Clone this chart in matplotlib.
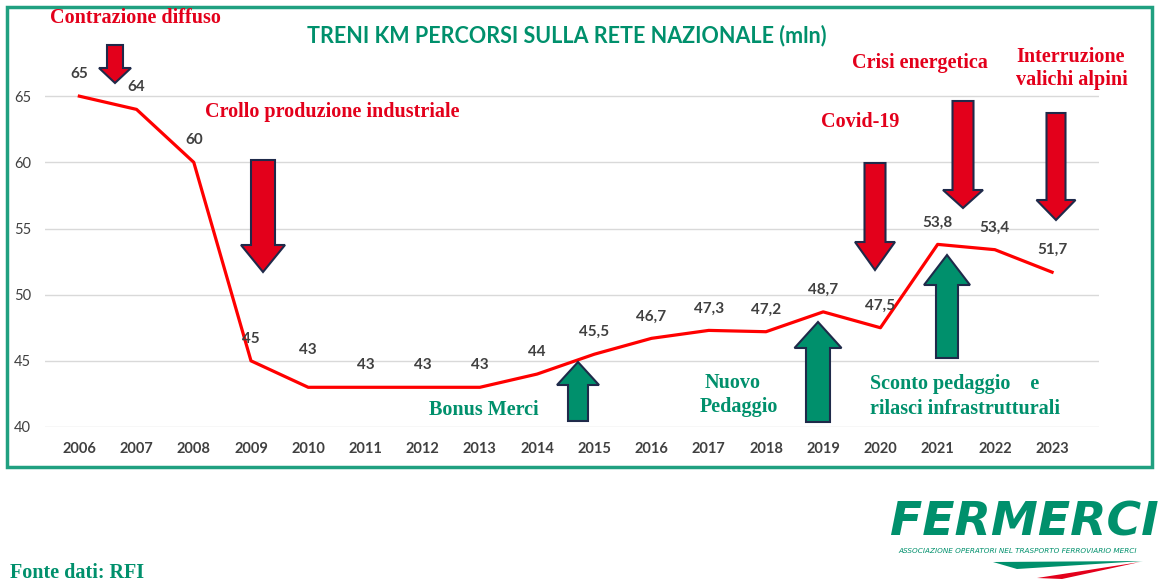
from matplotlib import pyplot as plt
from matplotlib.patches import Polygon, Rectangle

years = list(range(2006, 2024))
treni_km = [65, 64, 60, 45, 43, 43, 43, 43, 44, 45.5, 46.7, 47.3, 47.2, 48.7, 47.5, 53.8, 53.4, 51.7]
y_ticks = [40, 45, 50, 55, 60, 65]

W, H = 1163, 587
RED = "#e3001b"
GREEN = "#00906c"
NAVY = "#1f2a4a"
GRAY = "#404040"


def fx(x):
    return x / W


def fy(y):
    return 1 - y / H


def fmt(v):
    if v == int(v):
        return str(int(v))
    return str(v).replace(".", ",")


def block_arrow(fig, xc, y_tail, y_base, y_tip, shaft_w, head_w, color):
    s, h = shaft_w / 2, head_w / 2
    pts = [(xc - s, y_tail), (xc + s, y_tail), (xc + s, y_base), (xc + h, y_base),
           (xc, y_tip), (xc - h, y_base), (xc - s, y_base)]
    fig.patches.append(Polygon([(fx(x), fy(y)) for x, y in pts], closed=True,
                               transform=fig.transFigure, facecolor=color,
                               edgecolor=NAVY, lw=1.5, zorder=5))


fig = plt.figure(figsize=(W / 100, H / 100), dpi=100)
ax = fig.add_axes([fx(45), fy(427), (1099 - 45) / W, (427 - 30) / H])
ax.set_xlim(2005.4, 2023.82)
ax.set_ylim(40, 70)
ax.plot(years, treni_km, color="#ff0000", lw=2.3, zorder=3)

for _yr, _v in zip(years, treni_km):
    _dy = 37 if _yr == 2010 else 22
    ax.annotate(fmt(_v), (_yr, _v), xytext=(0, _dy), textcoords="offset pixels",
                ha="center", va="center", fontsize=11, fontweight="bold",
                family="Lato", color=GRAY)

ax.set_yticks(y_ticks)
ax.set_xticks(years)
ax.set_xticklabels([str(y) for y in years], fontsize=10.5, fontweight="bold",
                   family="Lato", color=GRAY)
ax.set_yticklabels([str(t) for t in y_ticks], fontsize=10.5, family="Lato", color=GRAY)
ax.tick_params(length=0, axis="x", pad=11)
ax.tick_params(length=0, axis="y", pad=10)
ax.yaxis.grid(True, color="#d9d9d9", lw=1)
ax.set_axisbelow(True)
for _sp in ax.spines.values():
    _sp.set_visible(False)

# frame
fig.patches.append(Rectangle((fx(7), fy(467)), (1152 - 7) / W, (467 - 7) / H,
                             transform=fig.transFigure, fill=False,
                             edgecolor="#20a080", lw=2.5))

fig.text(fx(567), fy(36), "TRENI KM PERCORSI SULLA RETE NAZIONALE (mln)", ha="center",
         va="center", fontsize=15.5, fontweight="bold", family="Lato", color=GREEN)

serif = dict(family="Liberation Serif", fontweight="bold", fontsize=14.5, va="center")
fig.text(fx(50), fy(18), "Contrazione diffuso", color=RED, ha="left", **serif)
fig.text(fx(205), fy(112), "Crollo produzione industriale", color=RED, ha="left", **serif)
fig.text(fx(860), fy(122), "Covid-19", color=RED, ha="center", **serif)
fig.text(fx(920), fy(63), "Crisi energetica", color=RED, ha="center", **serif)
fig.text(fx(1016), fy(57), "Interruzione", color=RED, ha="left", **serif)
fig.text(fx(1016), fy(80), "valichi alpini", color=RED, ha="left", **serif)
fig.text(fx(484), fy(410), "Bonus Merci", color=GREEN, ha="center", **serif)
fig.text(fx(705), fy(383), "Nuovo", color=GREEN, ha="left", **serif)
fig.text(fx(700), fy(407), "Pedaggio", color=GREEN, ha="left", **serif)
fig.text(fx(870), fy(384), "Sconto pedaggio    e", color=GREEN, ha="left", **serif)
fig.text(fx(870), fy(409), "rilasci infrastrutturali", color=GREEN, ha="left", **serif)
fig.text(fx(10), fy(573), "Fonte dati: RFI", color=GREEN, ha="left", **serif)

# arrows
block_arrow(fig, 115, 45, 68, 83, 16, 32, RED)
block_arrow(fig, 263, 160, 245, 272, 24, 44, RED)
block_arrow(fig, 875, 163, 242, 270, 21, 40, RED)
block_arrow(fig, 963, 101, 190, 208, 21, 40, RED)
block_arrow(fig, 1056, 113, 200, 220, 19, 39, RED)
block_arrow(fig, 578, 421, 385, 362, 20, 42, GREEN)
block_arrow(fig, 818, 422, 348, 322, 24, 47, GREEN)
block_arrow(fig, 947, 358, 285, 255, 22, 46, GREEN)

# logo
fig.text(fx(1024), fy(523), "FERMERCI", ha="center", va="center", fontsize=34,
         fontweight="bold", style="oblique", family="DejaVu Sans", color=GREEN)
fig.text(fx(1018), fy(551), "ASSOCIAZIONE OPERATORI NEL TRASPORTO FERROVIARIO MERCI",
         ha="center", va="center", fontsize=5.2, style="oblique",
         family="DejaVu Sans", color=GREEN)
fig.patches.append(Polygon([(fx(993), fy(562)), (fx(1143), fy(561)), (fx(1017), fy(569))],
                           closed=True, transform=fig.transFigure, facecolor=GREEN, lw=0))
fig.patches.append(Polygon([(fx(1037), fy(578)), (fx(1140), fy(562)), (fx(1062), fy(579))],
                           closed=True, transform=fig.transFigure, facecolor=RED, lw=0))

fig.savefig("out.png", dpi=100)
plt.close(fig)
